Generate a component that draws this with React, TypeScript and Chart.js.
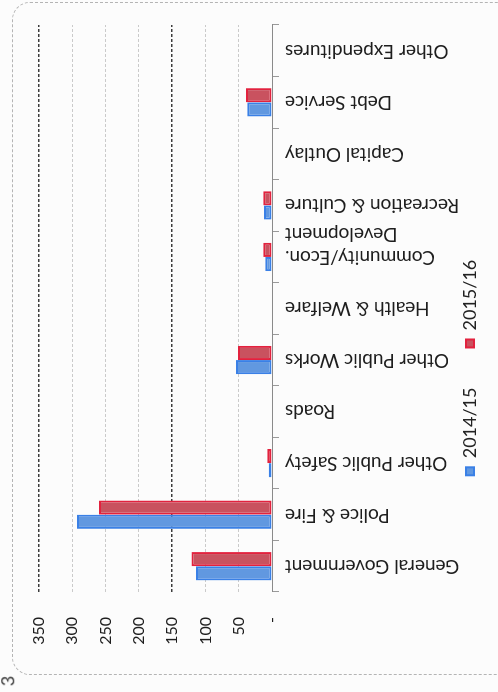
import React, { useEffect, useRef } from "react";
import { Chart, registerables } from "chart.js";

Chart.register(...registerables);

// ---- data ----
const categories: (string | string[])[] = [
  "General Government",
  "Police & Fire",
  "Other Public Safety",
  "Roads",
  "Other Public Works",
  "Health & Welfare",
  ["Community/Econ.", "Development"],
  "Recreation & Culture",
  "Capital Outlay",
  "Debt Service",
  "Other Expenditures",
];
const seriesNames = ["2014/15", "2015/16"];
const values2014 = [114, 293, 5, 0, 54, 0, 10, 12, 0, 37, 0];
const values2015 = [121, 260, 7, 0, 51, 0, 13, 13, 0, 39, 0];
const valueMin = 0;
const valueMax = 350;
const valueStep = 50;

const FONT = "Lato, 'Open Sans', sans-serif";
// chart is drawn upright on a canvas, then the whole canvas is turned a quarter turn counter-clockwise
const CW = 710;
const CH = 498;

export default function App() {
  const ref = useRef<HTMLCanvasElement | null>(null);

  useEffect(() => {
    if (!ref.current) return;
    const chart = new Chart(ref.current, {
      type: "bar",
      data: {
        labels: categories,
        datasets: [
          {
            label: seriesNames[0],
            data: values2014,
            backgroundColor: "#6198e0",
            borderColor: "#3a80e6",
            borderWidth: 2,
            borderSkipped: false,
            categoryPercentage: 0.55,
            barPercentage: 1,
          },
          {
            label: seriesNames[1],
            data: values2015,
            backgroundColor: "#c9525f",
            borderColor: "#e2223e",
            borderWidth: 2,
            borderSkipped: false,
            categoryPercentage: 0.55,
            barPercentage: 1,
          },
        ],
      },
      options: {
        responsive: false,
        animation: false,
        devicePixelRatio: 1,
        layout: { padding: { left: 0, right: 25, top: 39, bottom: 9 } },
        plugins: {
          legend: {
            position: "bottom",
            labels: {
              boxWidth: 8,
              boxHeight: 8,
              padding: 0,
              color: "#222",
              font: { family: FONT, size: 18 },
              generateLabels: (c: any) => {
                const items = Chart.defaults.plugins.legend.labels.generateLabels(c);
                const gap = {
                  text: "     ",
                  fillStyle: "rgba(0,0,0,0)",
                  strokeStyle: "rgba(0,0,0,0)",
                  fontColor: "rgba(0,0,0,0)",
                  lineWidth: 0,
                  hidden: false,
                  datasetIndex: -1,
                };
                return [items[0], gap as any, items[1]];
              },
            },
            onClick: () => {},
          },
          tooltip: { enabled: false },
        },
        scales: {
          x: {
            grid: {
              display: true,
              drawOnChartArea: false,
              offset: true,
              tickLength: 7,
              color: "#9a9a9a",
            },
            border: { display: true, color: "#8a8a8a", width: 1 },
            ticks: {
              autoSkip: false,
              minRotation: 90,
              maxRotation: 90,
              padding: 6,
              color: "#1e1e1e",
              font: { family: FONT, size: 19 },
            },
            afterFit: (s: any) => {
              s.height = 189;
            },
          },
          y: {
            min: valueMin,
            max: valueMax,
            ticks: {
              stepSize: valueStep,
              padding: 25,
              color: "#1e1e1e",
              font: { family: FONT, size: 16 },
              callback: (v: any) => (Number(v) === 0 ? "-" : String(v)),
            },
            grid: {
              drawTicks: false,
              color: (ctx: any) =>
                ctx.tick && (ctx.tick.value === 150 || ctx.tick.value === 350)
                  ? "#3c3c3c"
                  : "#cacaca",
              lineWidth: (ctx: any) =>
                ctx.tick && (ctx.tick.value === 150 || ctx.tick.value === 350) ? 1.5 : 1,
            },
            border: { display: false, dash: [3, 2] },
            afterFit: (s: any) => {
              s.width = 118;
            },
          },
        },
      },
    });
    return () => chart.destroy();
  }, []);

  return (
    <div
      style={{
        position: "fixed",
        left: 0,
        top: 0,
        width: 498,
        height: 692,
        overflow: "hidden",
        background: "#fcfcfc",
      }}
    >
      <div
        style={{
          position: "absolute",
          left: 12,
          top: 2,
          width: 540,
          height: 673,
          border: "1px dashed #b4b4b4",
          borderRadius: 18,
          boxSizing: "border-box",
        }}
      />
      <div
        style={{
          position: "absolute",
          left: 0,
          top: 0,
          width: CW,
          height: CH,
          transformOrigin: "0 0",
          transform: `translateY(${CW}px) rotate(-90deg)`,
        }}
      >
        <canvas ref={ref} width={CW} height={CH} style={{ display: "block" }} />
      </div>
      <div
        style={{
          position: "absolute",
          left: 2,
          top: 670,
          fontFamily: FONT,
          fontSize: 18,
          color: "#333",
          transform: "rotate(-90deg)",
        }}
      >
        3
      </div>
    </div>
  );
}
